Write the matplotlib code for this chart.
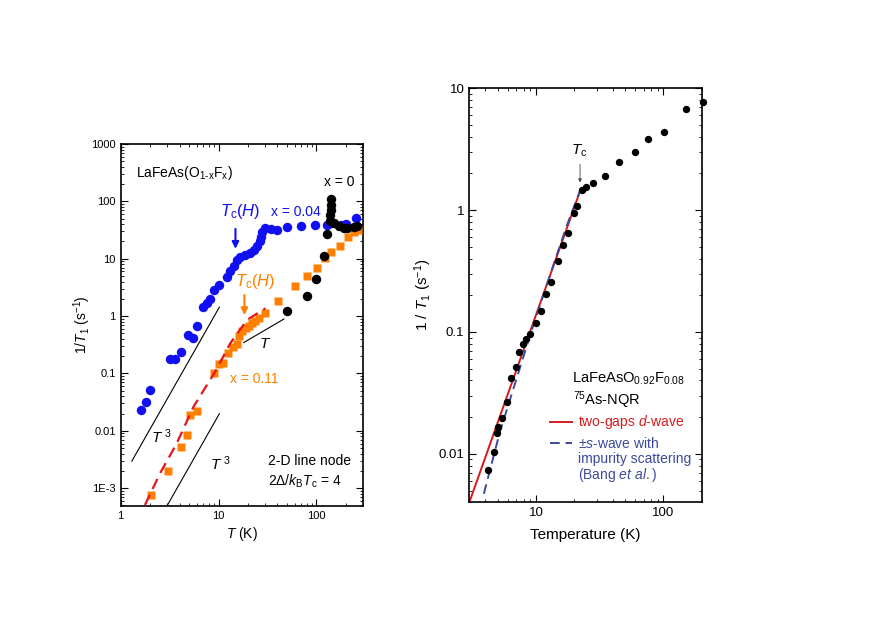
import matplotlib
matplotlib.use("Agg")
import matplotlib.pyplot as plt
from matplotlib.ticker import LogLocator, FuncFormatter, NullFormatter
import numpy as np

plt.rcParams['font.family'] = ['Liberation Sans', 'DejaVu Sans']
plt.rcParams['mathtext.fontset'] = 'custom'
plt.rcParams['mathtext.rm'] = 'Liberation Sans'
plt.rcParams['mathtext.it'] = 'Liberation Sans:italic'
plt.rcParams['mathtext.bf'] = 'Liberation Sans:bold'

# ---------------- Left panel data: LaFeAs(O1-xFx) ----------------
blue_T = [1.6, 1.8, 2.0, 3.2, 3.6, 4.15, 4.9, 5.5, 6.0, 7.0, 7.6, 8.1, 8.9, 10.0,
          12.2, 13.2, 14.3, 15.5, 16.7, 18.8, 21.1, 22.9, 24.8, 26.4, 27.3, 27.9,
          30.2, 34.0, 39.8, 50.5, 69, 98, 129, 140, 177, 199, 253]
blue_rate = [0.023, 0.032, 0.052, 0.18, 0.18, 0.238, 0.46, 0.41, 0.68, 1.43, 1.72,
             1.96, 2.86, 3.5, 4.9, 6.0, 7.5, 9.5, 10.9, 11.6, 12.8, 14.1, 16.5, 20,
             24.3, 29.8, 34, 32.7, 31.9, 36.4, 37.8, 38.9, 38.5, 41.6, 39, 40.5, 50.9]

black_T = [50, 80, 100, 121, 129, 137, 139, 140, 141, 142, 150, 169, 190, 208, 240, 262]
black_rate = [1.23, 2.2, 4.4, 11.3, 27, 46, 58, 71, 87, 108, 42, 37, 35, 34, 36.4, 37.8]

orange_T = [2.03, 3.03, 4.15, 4.75, 5.14, 6.0, 8.97, 10.0, 11.1, 12.4, 14.1, 15.5,
            16.1, 17.4, 19.2, 20.5, 22.0, 23.8, 26.0, 30.2, 40.4, 60, 80.6, 100.7,
            123.6, 142, 175, 211, 245, 265]
orange_rate = [7.7e-4, 2.0e-3, 5.3e-3, 8.5e-3, 0.019, 0.022, 0.104, 0.145, 0.151,
               0.226, 0.29, 0.33, 0.45, 0.56, 0.61, 0.68, 0.75, 0.83, 0.92, 1.12,
               1.86, 3.3, 5.1, 7.0, 10.5, 13.3, 16.7, 23.8, 29.6, 32.0]

fit_left_T = [1.77, 2.53, 3.75, 5.56, 9.27, 13.2, 19.6, 30.2]
fit_left_rate = [5.1e-4, 1.83e-3, 6.1e-3, 0.0265, 0.108, 0.337, 0.86, 1.37]

t3_upper_T = [1.3, 10.2]
t3_upper_coef = 1.35e-3
t3_lower_T = [2.9, 10.2]
t3_lower_coef = 1.87e-5
tlin_T = [18.1, 46.6]
tlin_coef = 0.0191

left_yticks = [1e-3, 1e-2, 1e-1, 1, 10, 100, 1000]
left_yticklabels = ['1E-3', '0.01', '0.1', '1', '10', '100', '1000']
left_xticks = [1, 10, 100]

# ---------------- Right panel data: LaFeAsO0.92F0.08 NQR ----------------
nqr_T = [4.17, 4.69, 4.98, 5.08, 5.42, 5.93, 6.43, 6.95, 7.38, 7.94, 8.34, 8.97,
         9.95, 10.9, 11.9, 13.1, 14.8, 16.3, 18.0, 19.9, 20.9, 23.1, 24.8, 28.0,
         35.1, 45.2, 60.4, 75.2, 100.5, 151.7, 203]
nqr_rate = [0.0074, 0.0104, 0.0149, 0.0165, 0.0197, 0.0265, 0.042, 0.0513, 0.068,
            0.080, 0.0877, 0.0964, 0.1185, 0.150, 0.205, 0.257, 0.384, 0.517, 0.648,
            0.944, 1.09, 1.47, 1.54, 1.66, 1.91, 2.5, 3.02, 3.84, 4.4, 6.73, 7.77]

dwave_T = [3.0, 22.6]
dwave_rate = [0.004, 1.51]
swave_T = [3.9, 5.2, 7.5, 9.0, 13.4, 17.5, 22.5]
swave_rate = [0.0047, 0.015, 0.051, 0.094, 0.33, 0.75, 1.5]

right_yticks = [0.01, 0.1, 1, 10]
right_xticks = [10, 100]

BLUE = '#1010f0'
ORANGE = '#ff8000'
RED = '#e8141c'
DRED = '#d7191c'
NAVY = '#3c4a9c'

fig = plt.figure(figsize=(8.72, 6.17), dpi=100)
axL = fig.add_axes([0.1384, 0.1799, 0.2779, 0.5867])
axR = fig.add_axes([0.5382, 0.1869, 0.2665, 0.6700])


def style_log_axes(ax, fs):
    ax.set_xscale('log')
    ax.set_yscale('log')
    ax.tick_params(which='both', direction='in', top=True, right=True, labelsize=fs)
    ax.tick_params(which='major', length=5, width=0.8)
    ax.tick_params(which='minor', length=2.5, width=0.6)
    ax.xaxis.set_minor_locator(LogLocator(base=10, subs=np.arange(2, 10), numticks=20))
    ax.yaxis.set_minor_locator(LogLocator(base=10, subs=np.arange(2, 10), numticks=20))
    ax.xaxis.set_minor_formatter(NullFormatter())
    ax.yaxis.set_minor_formatter(NullFormatter())
    for s in ax.spines.values():
        s.set_linewidth(1.2)


# ---------------- Left panel ----------------
style_log_axes(axL, 8)
axL.set_xlim(1, 300)
axL.set_ylim(4.9e-4, 1000)
axL.set_xticks(left_xticks)
axL.xaxis.set_major_formatter(FuncFormatter(lambda v, p: '%g' % v))
axL.set_yticks(left_yticks)
axL.set_yticklabels(left_yticklabels)

t = np.array(t3_upper_T)
axL.plot(t, t3_upper_coef * t ** 3, color='black', lw=0.8)
t = np.array(t3_lower_T)
axL.plot(t, t3_lower_coef * t ** 3, color='black', lw=0.8)
t = np.array(tlin_T)
axL.plot(t, tlin_coef * t, color='black', lw=0.8)

axL.plot(fit_left_T, fit_left_rate, color=RED, lw=1.6, dashes=(5, 3), zorder=4)
axL.plot(blue_T, blue_rate, 'o', color=BLUE, ms=6.8, mec='none', zorder=3)
axL.plot(orange_T, orange_rate, 's', color=ORANGE, ms=6.2, mec='none', zorder=3)
axL.plot(black_T, black_rate, 'o', color='black', ms=6.8, mec='none', zorder=3)

axL.text(1.44, 313, r'LaFeAs(O$_{\rm 1\text{-}x}$F$_{\rm x}$)', fontsize=10, va='center', ha='left')
axL.text(247, 220, 'x = 0', fontsize=10, va='center', ha='right')
axL.text(16.7, 66, r'$T_{\rm c}(H)$', fontsize=12, color=BLUE, ha='center', va='center')
axL.text(34, 66, 'x = 0.04', fontsize=10, color=BLUE, ha='left', va='center')
axL.annotate('', xy=(14.9, 13.3), xytext=(14.9, 37),
             arrowprops=dict(arrowstyle='-|>', color=BLUE, lw=1.5, mutation_scale=10))
axL.text(23.8, 4.0, r'$T_{\rm c}(H)$', fontsize=12, color=ORANGE, ha='center', va='center')
axL.annotate('', xy=(18.4, 0.93), xytext=(18.4, 2.6),
             arrowprops=dict(arrowstyle='-|>', color=ORANGE, lw=1.5, mutation_scale=10))
axL.text(13.2, 0.0795, 'x = 0.11', fontsize=10, color=ORANGE, ha='left', va='center')
axL.text(30.2, 0.324, r'$T$', fontsize=11, ha='center', va='center')
axL.text(2.63, 7.9e-3, r'$T^{\ 3}$', fontsize=11, ha='center', va='center')
axL.text(10.4, 2.73e-3, r'$T^{\ 3}$', fontsize=11, ha='center', va='center')
axL.text(32.4, 3.0e-3, '2-D line node', fontsize=10, ha='left', va='center')
axL.text(32.4, 1.31e-3, r'2$\mathit{\Delta}/k_{\rm B}T_{\rm c}$ = 4', fontsize=10,
         ha='left', va='center')
axL.set_xlabel(r'$T$ (K)', fontsize=10, labelpad=3)
axL.set_ylabel(r'1/$T_{\rm 1}$ (s$^{-1}$)', fontsize=10, labelpad=-1)

# ---------------- Right panel ----------------
style_log_axes(axR, 9.5)
axR.set_xlim(3, 200)
axR.set_ylim(0.00405, 10)
axR.set_xticks(right_xticks)
axR.xaxis.set_major_formatter(FuncFormatter(lambda v, p: '%g' % v))
axR.set_yticks(right_yticks)
axR.yaxis.set_major_formatter(FuncFormatter(lambda v, p: '%g' % v))

axR.plot(dwave_T, dwave_rate, color=DRED, lw=1.4, zorder=2)
axR.plot(swave_T, swave_rate, color=NAVY, lw=1.4, dashes=(5, 3), zorder=2)
axR.plot(nqr_T, nqr_rate, 'o', color='black', ms=5.3, mec='none', zorder=3, clip_on=False)

axR.text(21.8, 3.06, r'$T_{\rm c}$', fontsize=11, ha='center', va='center')
axR.annotate('', xy=(22.2, 1.6), xytext=(22.2, 2.5),
             arrowprops=dict(arrowstyle='-|>', color='#444444', lw=0.6, mutation_scale=5))

axR.text(0.44, 0.297, r'LaFeAsO$_{0.92}$F$_{0.08}$', transform=axR.transAxes,
         fontsize=10.5, ha='left', va='center')
axR.text(0.445, 0.246, r'$^{75}$As-NQR', transform=axR.transAxes,
         fontsize=10.5, ha='left', va='center')
axR.plot([0.348, 0.442], [0.192, 0.192], transform=axR.transAxes, color=DRED, lw=1.4)
axR.text(0.469, 0.192, r'two-gaps $d$-wave', transform=axR.transAxes, fontsize=10,
         color=DRED, ha='left', va='center')
axR.plot([0.348, 0.442], [0.141, 0.141], transform=axR.transAxes, color=NAVY, lw=1.4,
         dashes=(5, 3))
axR.text(0.469, 0.141, r'$\pm s$-wave with', transform=axR.transAxes, fontsize=10,
         color=NAVY, ha='left', va='center')
axR.text(0.469, 0.103, 'impurity scattering', transform=axR.transAxes, fontsize=10,
         color=NAVY, ha='left', va='center')
axR.text(0.469, 0.065, r'(Bang $et\ al.$)', transform=axR.transAxes, fontsize=10,
         color=NAVY, ha='left', va='center')

axR.set_xlabel('Temperature (K)', fontsize=11, labelpad=7)
axR.set_ylabel(r'1 / $T_{\rm 1}$ (s$^{-1}$)', fontsize=11, labelpad=3)

fig.savefig('out.png', dpi=100)
